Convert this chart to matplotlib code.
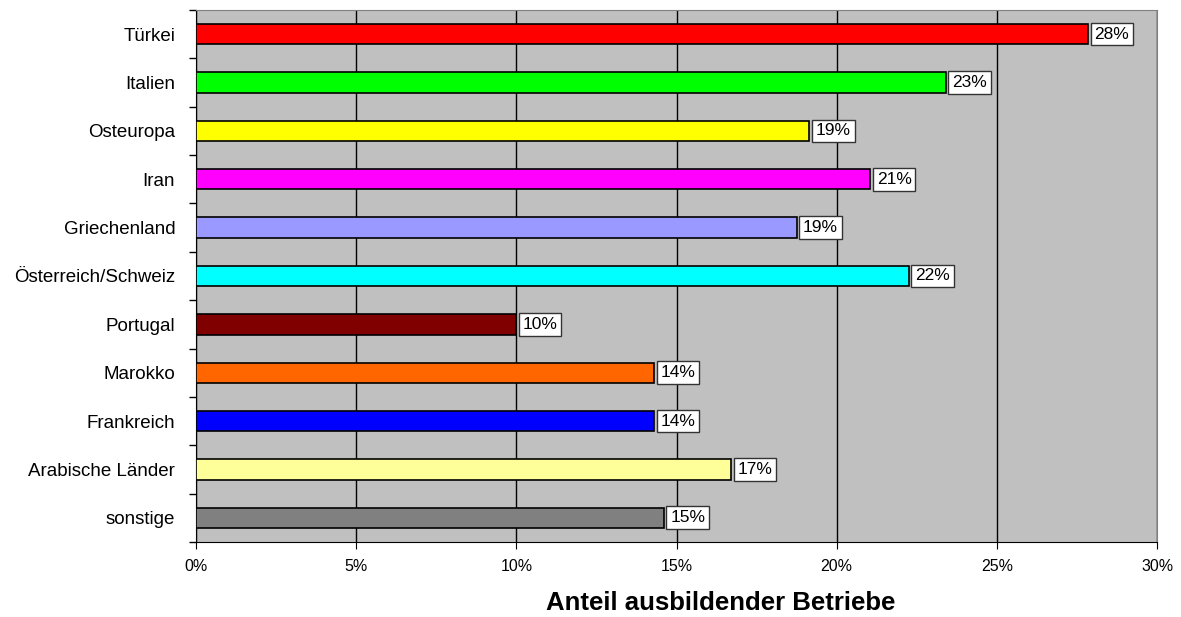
import numpy as np
import matplotlib.pyplot as plt
from matplotlib.ticker import FixedLocator, PercentFormatter

plt.rcParams['font.family'] = ['Liberation Sans', 'DejaVu Sans']

countries = ['Türkei', 'Italien', 'Osteuropa', 'Iran', 'Griechenland',
             'Österreich/Schweiz', 'Portugal', 'Marokko', 'Frankreich',
             'Arabische Länder', 'sonstige']
shares = [27.85, 23.4, 19.15, 21.05, 18.75, 22.25, 10.0, 14.3, 14.3, 16.7, 14.6]
labels = ['28%', '23%', '19%', '21%', '19%', '22%', '10%', '14%', '14%', '17%', '15%']
colors = ['#FF0000', '#00FF00', '#FFFF00', '#FF00FF', '#9999FF', '#00FFFF',
          '#800000', '#FF6600', '#0000FF', '#FFFF99', '#808080']

fig = plt.figure(figsize=(11.81, 6.17), dpi=100)
ax = fig.add_axes([0.166, 0.1216, 0.8137, 0.8622])
ax.set_facecolor('#C0C0C0')

y = np.arange(len(countries))
ax.barh(y, shares, height=0.42, color=colors, edgecolor='black', linewidth=1.2, zorder=3)

for yi, v, lab in zip(y, shares, labels):
    ax.text(v + 0.2, yi, lab, va='center', ha='left', fontsize=12.5, zorder=4,
            bbox=dict(boxstyle='square,pad=0.22', facecolor='white', edgecolor='#333333', linewidth=1))

ax.set_xlim(0, 30)
ax.set_ylim(len(countries) - 0.5, -0.5)
ax.set_xticks(np.arange(0, 31, 5))
ax.xaxis.set_major_formatter(PercentFormatter(decimals=0))
ax.grid(axis='x', color='black', linewidth=1, zorder=1)

ax.set_yticks(y)
ax.set_yticklabels(countries, fontsize=13.5)
ax.yaxis.set_minor_locator(FixedLocator(np.arange(-0.5, len(countries), 1)))
ax.tick_params(axis='y', which='major', length=0, pad=15)
ax.tick_params(axis='y', which='minor', length=5, width=1)
ax.tick_params(axis='x', length=5, labelsize=11.5, pad=7)

for side in ['top', 'right']:
    ax.spines[side].set_color('#808080')
for side in ['left', 'bottom']:
    ax.spines[side].set_color('black')

ax.set_xlabel('Anteil ausbildender Betriebe', fontsize=18.5, fontweight='bold')
ax.xaxis.label.set_va('baseline')
ax.xaxis.set_label_coords(0.546, -0.128)

fig.savefig('out.png', dpi=100)
